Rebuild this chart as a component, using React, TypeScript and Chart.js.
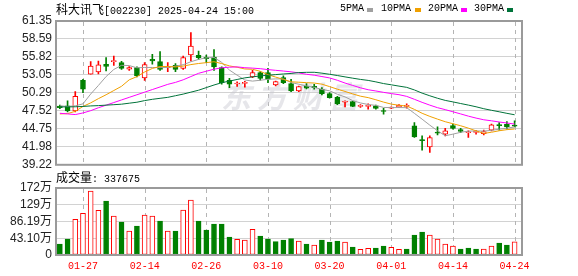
import React, { useEffect, useRef } from "react";
import { Chart, registerables } from "chart.js";
Chart.register(...registerables);

const dates = [
  "01-22", "01-23", "01-24", "01-27", "02-05", "02-06", "02-07", "02-10", "02-11", "02-12",
  "02-13", "02-14", "02-17", "02-18", "02-19", "02-20", "02-21", "02-24", "02-25", "02-26",
  "02-27", "02-28", "03-03", "03-04", "03-05", "03-06", "03-07", "03-10", "03-11", "03-12",
  "03-13", "03-14", "03-17", "03-18", "03-19", "03-20", "03-21", "03-24", "03-25", "03-26",
  "03-27", "03-28", "03-31", "04-01", "04-02", "04-03", "04-07", "04-08", "04-09", "04-10",
  "04-11", "04-14", "04-15", "04-16", "04-17", "04-18", "04-21", "04-22", "04-23", "04-24",
];
const tickDates = ["01-27", "02-14", "02-26", "03-10", "03-20", "04-01", "04-14", "04-24"];

const opens = [
  48.25, 48.29, 47.52, 52.23, 53.15, 53.51, 54.68, 55.1, 54.94, 53.95,
  54.17, 52.6, 55.45, 55.1, 54.17, 54.53, 54.07, 56.12, 56.07, 55.75,
  55.81, 54.17, 52.23, 51.65, 51.75, 52.74, 53.4, 53.4, 51.51, 52.64,
  51.71, 50.59, 51.35, 51.28, 50.85, 50.18, 49.6, 48.85, 48.95, 48.2,
  48.2, 48.3, 47.5, 47.95, 48.1, 48.22, 45.21, 43.05, 41.98, 44.25,
  43.93, 45.26, 44.65, 44.15, 44.2, 44.0, 44.54, 45.36, 45.46, 45.26,
];
const highs = [
  48.4, 49.06, 50.48, 52.38, 55.1, 55.2, 55.71, 55.97, 55.15, 54.35,
  54.28, 54.95, 56.22, 56.63, 54.94, 54.79, 55.97, 59.55, 56.73, 56.12,
  56.94, 54.28, 52.53, 52.0, 52.07, 53.76, 53.56, 54.07, 52.12, 52.9,
  52.38, 51.35, 51.71, 51.6, 51.1, 50.33, 49.76, 49.05, 49.0, 48.5,
  48.6, 48.4, 47.92, 48.15, 48.5, 48.6, 45.72, 43.67, 43.67, 45.06,
  44.85, 45.47, 44.85, 44.44, 44.54, 44.55, 45.47, 45.72, 45.87, 45.98,
];
const lows = [
  47.85, 47.37, 47.37, 50.33, 53.15, 53.2, 53.67, 54.5, 53.91, 53.76,
  52.74, 52.2, 54.69, 53.76, 53.56, 53.56, 53.91, 55.2, 55.45, 54.94,
  53.76, 51.61, 51.1, 51.3, 51.15, 52.63, 52.23, 51.87, 51.35, 51.71,
  50.48, 50.48, 50.9, 50.85, 49.98, 49.46, 48.48, 48.13, 48.15, 48.05,
  47.8, 47.8, 47.0, 47.85, 48.0, 47.95, 43.42, 41.47, 41.11, 43.83,
  43.67, 44.7, 44.18, 43.42, 43.93, 43.8, 44.44, 44.54, 44.7, 45.06,
];
const closes = [
  48.0, 47.52, 49.77, 50.84, 54.43, 54.59, 54.37, 55.2, 54.07, 54.2,
  52.9, 54.65, 55.2, 53.9, 54.37, 53.91, 55.71, 57.5, 55.71, 55.55,
  54.28, 51.87, 51.61, 51.75, 51.85, 53.4, 52.53, 52.38, 52.02, 51.87,
  50.59, 51.25, 51.0, 51.05, 50.18, 49.56, 48.62, 48.95, 48.2, 48.35,
  48.4, 47.9, 47.42, 48.05, 48.4, 48.3, 43.52, 42.95, 43.42, 44.1,
  44.44, 44.8, 44.34, 44.3, 44.25, 44.35, 45.36, 45.26, 45.06, 45.16,
];
// 成交量 (万股)
const volumes = [
  28.3, 41.2, 91.9, 107.3, 164.2, 115.0, 139.0, 100.4, 85.0, 61.7,
  74.6, 102.9, 100.4, 87.5, 61.7, 61.7, 115.7, 141.5, 87.5, 64.4,
  79.8, 79.8, 46.3, 40.4, 38.6, 66.1, 48.9, 41.2, 34.3, 38.6,
  42.0, 36.0, 28.3, 25.8, 38.6, 33.5, 36.0, 33.5, 20.6, 14.6,
  17.3, 18.0, 23.1, 19.8, 14.6, 15.4, 51.5, 59.2, 51.5, 41.2,
  28.3, 23.1, 15.4, 18.0, 15.4, 15.4, 23.1, 30.9, 25.8, 33.77,
];
const ma5 = [
  48.3, 48.2, 48.3, 48.6, 50.11, 51.43, 52.8, 53.89, 54.53, 54.49,
  54.15, 54.2, 54.2, 54.17, 54.2, 54.41, 54.62, 55.08, 55.44, 55.68,
  55.75, 54.98, 53.8, 53.01, 52.27, 52.1, 52.23, 52.38, 52.44, 52.44,
  51.88, 51.62, 51.35, 51.15, 50.81, 50.61, 50.08, 49.67, 49.1, 48.74,
  48.5, 48.36, 48.05, 48.02, 48.03, 48.01, 47.14, 46.24, 45.32, 44.46,
  43.69, 43.94, 44.22, 44.4, 44.43, 44.41, 44.52, 44.7, 44.86, 45.04,
];
const ma10 = [
  47.05, 47.1, 47.45, 48.2, 48.75, 49.4, 50.0, 50.65, 51.3, 52.3,
  52.79, 53.5, 54.05, 54.35, 54.35, 54.28, 54.41, 54.64, 54.81, 54.94,
  55.08, 54.8, 54.44, 54.23, 53.97, 53.92, 53.61, 53.09, 52.72, 52.36,
  51.99, 51.93, 51.86, 51.8, 51.63, 51.25, 50.86, 50.51, 50.13, 49.78,
  49.56, 49.23, 48.87, 48.56, 48.38, 48.26, 47.75, 47.15, 46.67, 46.25,
  45.85, 45.54, 45.23, 44.86, 44.44, 44.05, 44.23, 44.46, 44.63, 44.73,
];
const ma20 = [
  47.15, 47.05, 46.95, 47.2, 47.55, 48.0, 48.4, 48.8, 49.2, 49.6,
  50.0, 50.4, 50.8, 51.2, 51.6, 51.9, 52.3, 52.8, 53.3, 53.62,
  53.93, 54.15, 54.24, 54.29, 54.16, 54.1, 54.01, 53.87, 53.76, 53.65,
  53.53, 53.36, 53.15, 53.01, 52.8, 52.59, 52.23, 51.8, 51.43, 51.07,
  50.77, 50.58, 50.37, 50.18, 50.01, 49.75, 49.3, 48.83, 48.4, 48.01,
  47.71, 47.38, 47.05, 46.71, 46.41, 46.15, 45.99, 45.81, 45.65, 45.49,
];
const ma30 = [
  48.13, 48.13, 48.15, 48.2, 48.28, 48.33, 48.4, 48.47, 48.55, 48.7,
  48.85, 49.1, 49.3, 49.45, 49.6, 49.85, 50.1, 50.4, 50.7, 51.1,
  51.5, 51.85, 52.1, 52.35, 52.6, 52.75, 52.9, 53.0, 53.1, 53.2,
  53.28, 53.41, 53.45, 53.46, 53.32, 53.15, 52.96, 52.75, 52.55, 52.36,
  52.21, 51.98, 51.72, 51.53, 51.33, 51.14, 50.74, 50.25, 49.84, 49.46,
  49.13, 48.9, 48.65, 48.41, 48.15, 47.85, 47.61, 47.38, 47.14, 46.92,
];
const maNames = ["5PMA", "10PMA", "20PMA", "30PMA"];
const priceTicks = [39.22, 41.98, 44.75, 47.52, 50.29, 53.05, 55.82, 58.59, 61.35];
const volumeTicks = [0, 43.095, 86.19, 129.285, 172.38];
const volumeTickLabels = ["0", "43.10万", "86.19万", "129万", "172万"];
const stockTitle = "科大讯飞";
const stockCode = "[002230] 2025-04-24 15:00";
const lastVolume = "337675";

const tickIdx = tickDates.map((d) => dates.indexOf(d));

const RED = "#ff0000";
const GREEN = "#008000";
const MA_COLORS = ["#a0a0a0", "#f0a000", "#ff00ff", "#00733a"];
const GRID = "#d2d2d2";
const MONO = '"Liberation Mono", "DejaVu Sans Mono", monospace';
const CJK = '"Noto Sans CJK SC", sans-serif';

const framePlugin = {
  id: "frame",
  afterDraw(chart: any) {
    const { ctx, chartArea: a } = chart;
    ctx.save();
    ctx.strokeStyle = "#9a9a9a";
    ctx.lineWidth = 2;
    ctx.strokeRect(a.left, a.top, a.right - a.left, a.bottom - a.top);
    ctx.restore();
  },
};

const vGridPlugin = {
  id: "vgrid",
  beforeDatasetsDraw(chart: any) {
    const { ctx, chartArea: a, scales } = chart;
    const xs = scales.x;
    ctx.save();
    ctx.strokeStyle = "#b4b4b4";
    ctx.lineWidth = 1;
    ctx.setLineDash([4, 4]);
    tickIdx.forEach((v) => {
      const px = Math.round(xs.getPixelForValue(v)) + 0.5;
      ctx.beginPath();
      ctx.moveTo(px, a.top + 1);
      ctx.lineTo(px, a.bottom);
      ctx.stroke();
    });
    ctx.restore();
  },
};

const watermarkPlugin = {
  id: "watermark",
  beforeDatasetsDraw(chart: any) {
    const { ctx, chartArea: a } = chart;
    ctx.save();
    ctx.fillStyle = "rgba(200,200,208,0.45)";
    ctx.font = 'italic bold 30px "Noto Sans CJK SC"';
    (ctx as any).letterSpacing = "6px";
    ctx.textBaseline = "middle";
    const cx = (a.left + a.right) / 2;
    ctx.fillText("东方财富", cx - 68, a.top + 76);
    ctx.restore();
  },
};

export default function App() {
  const mainRef = useRef<HTMLCanvasElement>(null);
  const volRef = useRef<HTMLCanvasElement>(null);

  useEffect(() => {
    const idx = dates.map((_, i) => i);
    const up = idx.map((i) => closes[i] >= opens[i]);
    const volUp = idx.map((i) => (i === 0 ? closes[0] >= opens[0] : closes[i] >= closes[i - 1]));
    const mas = [ma5, ma10, ma20, ma30];

    const xBase = (showLabels: boolean) => ({
      type: "linear" as const,
      min: -0.5,
      max: 59.96,
      offset: false,
      afterBuildTicks: (s: any) => {
        s.ticks = tickIdx.map((v) => ({ value: v }));
      },
      afterFit: (s: any) => {
        s.height = showLabels ? 21 : 0;
      },
      ticks: {
        display: showLabels,
        autoSkip: false,
        maxRotation: 0,
        padding: 5,
        color: RED,
        font: { family: MONO, size: 10 },
        callback: (v: any) => dates[Math.round(Number(v))] ?? "",
      },
      grid: { display: false, drawTicks: false },
      border: { display: false },
    });

    const yFont = { family: '"Liberation Sans", Arial, "Noto Sans CJK SC", sans-serif', size: 12 };

    const main = new Chart(mainRef.current!, {
      type: "bar",
      data: {
        datasets: [
          {
            type: "bar",
            label: "wick",
            data: idx.map((i) => ({ x: i, y: [lows[i], highs[i]] })) as any,
            backgroundColor: idx.map((i) => (up[i] ? RED : GREEN)),
            borderWidth: 0,
            barThickness: 1,
            grouped: false,
            order: 6,
          },
          {
            type: "bar",
            label: "body",
            data: idx.map((i) => ({ x: i, y: [opens[i], closes[i]] })) as any,
            backgroundColor: idx.map((i) => (up[i] ? "#ffffff" : GREEN)),
            borderColor: idx.map((i) => (up[i] ? RED : GREEN)),
            borderWidth: 1,
            borderSkipped: false,
            barThickness: 5,
            minBarLength: 1,
            grouped: false,
            order: 5,
          },
          ...mas.map((arr, k) => ({
            type: "line" as const,
            label: maNames[k],
            data: idx.map((i) => ({ x: i, y: arr[i] })),
            borderColor: MA_COLORS[k],
            borderWidth: 1,
            pointRadius: 0,
            tension: 0,
            order: 4 - k,
          })),
        ] as any,
      },
      options: {
        animation: false,
        responsive: false,
        layout: { padding: { left: 0, right: 56, top: 21, bottom: 11 } },
        plugins: { legend: { display: false }, tooltip: { enabled: false } },
        scales: {
          x: xBase(false) as any,
          y: {
            type: "linear",
            min: priceTicks[0],
            max: priceTicks[priceTicks.length - 1],
            afterBuildTicks: (s: any) => {
              s.ticks = priceTicks.map((v) => ({ value: v }));
            },
            afterFit: (s: any) => {
              s.width = 56;
            },
            ticks: {
              autoSkip: false,
              padding: 4,
              color: "#222",
              font: yFont,
              callback: (v: any) => Number(v).toFixed(2),
            },
            grid: { color: GRID, lineWidth: 1, drawTicks: false },
            border: { display: false },
          },
        },
      },
      plugins: [vGridPlugin, watermarkPlugin, framePlugin],
    });

    const vol = new Chart(volRef.current!, {
      type: "bar",
      data: {
        datasets: [
          {
            label: "成交量",
            data: idx.map((i) => ({ x: i, y: volumes[i] })) as any,
            backgroundColor: idx.map((i) => (volUp[i] ? "#ffffff" : GREEN)),
            borderColor: idx.map((i) => (volUp[i] ? RED : GREEN)),
            borderWidth: 1,
            borderSkipped: false,
            barThickness: 5,
            grouped: false,
          },
        ],
      },
      options: {
        animation: false,
        responsive: false,
        layout: { padding: { left: 0, right: 56, top: 12, bottom: 0 } },
        plugins: { legend: { display: false }, tooltip: { enabled: false } },
        scales: {
          x: xBase(true) as any,
          y: {
            type: "linear",
            min: 0,
            max: volumeTicks[volumeTicks.length - 1],
            afterBuildTicks: (s: any) => {
              s.ticks = volumeTicks.map((v) => ({ value: v }));
            },
            afterFit: (s: any) => {
              s.width = 56;
            },
            ticks: {
              autoSkip: false,
              padding: 4,
              color: "#222",
              font: yFont,
              callback: (_v: any, i: number) => volumeTickLabels[i],
            },
            grid: { color: GRID, lineWidth: 1, drawTicks: false },
            border: { display: false },
          },
        },
      },
      plugins: [vGridPlugin, framePlugin],
    });

    return () => {
      main.destroy();
      vol.destroy();
    };
  }, []);

  const legendText: React.CSSProperties = {
    position: "absolute",
    top: 2,
    fontFamily: MONO,
    fontSize: 10,
    lineHeight: "14px",
    color: "#000",
    whiteSpace: "nowrap",
  };
  const legendLeft = [340, 381, 428, 474];
  const swatchLeft = [367, 415, 461, 507];

  return (
    <div style={{ position: "fixed", left: 0, top: 0, width: 578, height: 276, background: "#fff", overflow: "hidden" }}>
      <canvas ref={mainRef} width={578} height={176} style={{ position: "absolute", left: 0, top: 0, width: 578, height: 176 }} />
      <canvas ref={volRef} width={578} height={100} style={{ position: "absolute", left: 0, top: 176, width: 578, height: 100 }} />
      <div style={{ position: "absolute", left: 56, top: 2, lineHeight: "14px", whiteSpace: "nowrap", color: "#000" }}>
        <span style={{ fontFamily: CJK, fontSize: 12 }}>{stockTitle}</span>
        <span style={{ fontFamily: MONO, fontSize: 10 }}>{stockCode}</span>
      </div>
      {maNames.map((n, k) => (
        <React.Fragment key={n}>
          <span style={{ ...legendText, left: legendLeft[k] }}>{n}</span>
          <span style={{ position: "absolute", left: swatchLeft[k], top: 8, width: 6, height: 4, background: MA_COLORS[k] }} />
        </React.Fragment>
      ))}
      <div style={{ position: "absolute", left: 56, top: 170, lineHeight: "14px", whiteSpace: "nowrap", color: "#000" }}>
        <span style={{ fontFamily: CJK, fontSize: 12 }}>成交量</span>
        <span style={{ fontFamily: MONO, fontSize: 10 }}>: {lastVolume}</span>
      </div>
    </div>
  );
}
